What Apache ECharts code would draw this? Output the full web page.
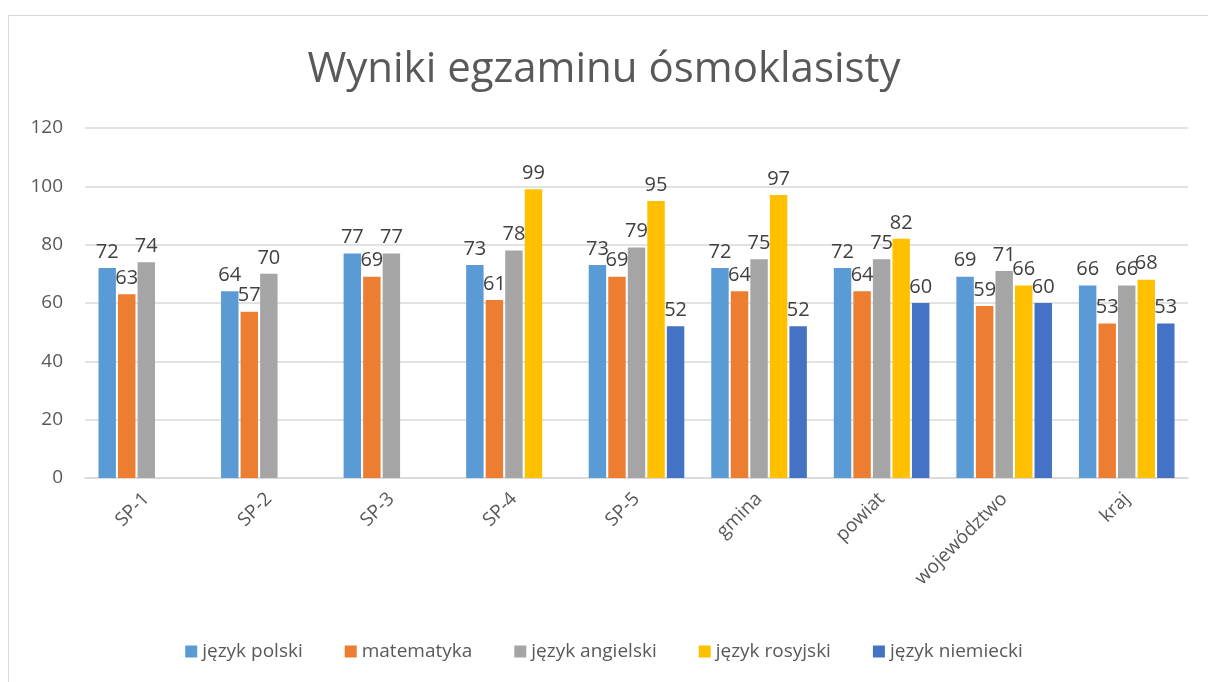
<!DOCTYPE html>
<html lang="pl">
<head>
    <meta charset="UTF-8">
    <title>Wyniki egzaminu ósmoklasisty</title>
    <style>
        html, body { margin: 0; padding: 0; background: #fff; }
        #frame { position: absolute; left: 8px; top: 15px; width: 1210px; height: 680px; border: 1px solid #d9d9d9; box-sizing: border-box; }
        #chart { position: absolute; left: 0; top: 0; width: 1208px; height: 682px; }
    </style>
</head>
<body>
<div id="frame"></div>
<div id="chart"></div>
<script src="https://cdn.jsdelivr.net/npm/echarts@6/dist/echarts.min.js"></script>
<script>
    var categories = ['SP-1', 'SP-2', 'SP-3', 'SP-4', 'SP-5', 'gmina', 'powiat', 'województwo', 'kraj'];
    var seriesNames = ['język polski', 'matematyka', 'język angielski', 'język rosyjski', 'język niemiecki'];
    var polski = [72, 64, 77, 73, 73, 72, 72, 69, 66];
    var matematyka = [63, 57, 69, 61, 69, 64, 64, 59, 53];
    var angielski = [74, 70, 77, 78, 79, 75, 75, 71, 66];
    var rosyjski = ['-', '-', '-', 99, 95, 97, 82, 66, 68];
    var niemiecki = ['-', '-', '-', '-', 52, 52, 60, 60, 53];
    var yTicks = [0, 20, 40, 60, 80, 100, 120];

    var colors = ['#5b9bd5', '#ed7d31', '#a5a5a5', '#ffc000', '#4472c4'];
    var values = [polski, matematyka, angielski, rosyjski, niemiecki];
    var font = 'Open Sans';

    var _chart = echarts.init(document.getElementById('chart'));

    var series = seriesNames.map(function (name, i) {
        return {
            name: name,
            type: 'bar',
            data: values[i],
            barGap: '12%',
            barCategoryGap: '22%',
            itemStyle: { color: colors[i] },
            label: {
                show: true,
                position: 'top',
                distance: 6,
                color: '#404040',
                fontFamily: font,
                fontSize: 20
            }
        };
    });

    var option = {
        animation: false,
        color: colors,
        title: {
            text: 'Wyniki egzaminu ósmoklasisty',
            left: 'center',
            top: 44,
            textStyle: { color: '#595959', fontFamily: font, fontSize: 42, fontWeight: 'normal' }
        },
        legend: {
            bottom: 16,
            left: 'center',
            itemWidth: 12,
            itemHeight: 12,
            itemGap: 42,
            icon: 'rect',
            textStyle: { color: '#595959', fontFamily: font, fontSize: 19 }
        },
        grid: { left: 85, right: 20, top: 128, bottom: 204 },
        xAxis: {
            type: 'category',
            data: categories,
            axisLine: { lineStyle: { color: '#d9d9d9', width: 1.5 } },
            axisTick: { show: false },
            axisLabel: {
                rotate: 45,
                margin: 18,
                color: '#595959',
                fontFamily: font,
                fontSize: 19,
                interval: 0
            }
        },
        yAxis: {
            type: 'value',
            min: yTicks[0],
            max: yTicks[yTicks.length - 1],
            interval: 20,
            axisLine: { show: false },
            axisTick: { show: false },
            axisLabel: { color: '#595959', fontFamily: font, fontSize: 19, margin: 22 },
            splitLine: { lineStyle: { color: '#d9d9d9', width: 1.5 } }
        },
        series: series
    };
    _chart.setOption(option, true);
</script>
</body>
</html>
